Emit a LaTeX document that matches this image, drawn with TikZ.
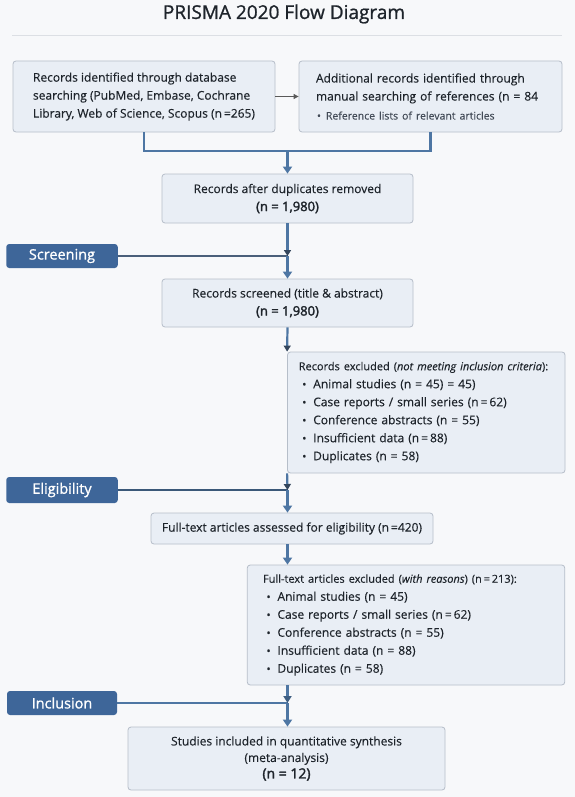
\documentclass[tikz,border=0pt]{standalone}
\usepackage{fontspec}
\setmainfont{Open Sans}[FakeBold=0.3]
\newfontfamily\semib{Open Sans}[FakeBold=1.0]
\newfontfamily\numb{Open Sans}[FakeBold=2.2]
\usetikzlibrary{arrows.meta}
\definecolor{bg}{HTML}{F7F8FA}
\definecolor{boxfill}{HTML}{E9EEF5}
\definecolor{boxdraw}{HTML}{B6BEC9}
\definecolor{flowblue}{HTML}{4E76A3}
\definecolor{phasefill}{HTML}{3E6699}
\definecolor{darktip}{HTML}{34465C}
\definecolor{txt}{HTML}{1E242B}
\definecolor{subtxt}{HTML}{434B57}
\definecolor{rule}{HTML}{DCDFE4}
\definecolor{phaseline}{HTML}{4A5F7A}
\definecolor{eligline}{HTML}{3B5878}
\newcommand{\mybul}{\makebox[14.5pt][l]{\hspace*{3.5pt}{\fontsize{11}{11}\selectfont •}}}
\begin{document}
\begin{tikzpicture}[x=1pt,y=-1pt,
  box/.style={draw=boxdraw, fill=boxfill, rounded corners=3pt, line width=0.8pt, inner sep=0pt, text=txt, font=\fontsize{12}{18}\selectfont},
  phase/.style={fill=phasefill, rounded corners=3pt, text=white, inner sep=0pt, font=\semib\fontsize{14.5}{16}\selectfont},
  flowline/.style={draw=flowblue, line width=2.2pt},
  flow/.style={flowline, -{Triangle[width=9pt,length=7pt]}},
  darkflow/.style={flowline, -{Triangle[width=7pt,length=6pt,color=darktip]}},
  phaselink/.style={draw=phaseline, line width=1.8pt},
  sidearrow/.style={draw=black!65, line width=1pt, -{Triangle[width=5pt,length=5pt]}}
]
\useasboundingbox (0,0) rectangle (575,797);
\fill[bg] (0,0) rectangle (575,797);

% title
\node[text=txt, font=\semib\fontsize{19}{22}\selectfont, inner sep=0pt] (title) at (284,14) {PRISMA 2020 Flow Diagram};
\draw[rule, line width=0.8pt] (12,35) -- (562,35);

% boxes
\node[box, minimum width=262pt, minimum height=71pt, align=left] (rec) at (144,96.5)
  {Records identified through database\\ searching (PubMed, Embase, Cochrane\\ Library, Web of Science, Scopus (n\,=265)};
\node[box, minimum width=263pt, minimum height=71pt, text width=229pt, align=left] (add) at (430.5,96.5)
  {Additional records identified through\\ manual searching of references (n = 84\\[1pt] {\fontsize{10.5}{18}\selectfont\color{subtxt}\hspace*{1pt}•\hspace{5pt}Reference lists of relevant articles}};
\node[box, minimum width=251pt, minimum height=49pt, align=center] (dup) at (287.5,198.5)
  {Records after duplicates removed\\ {\numb\fontsize{13}{19}\selectfont (n = 1,980)}};
\node[box, minimum width=251pt, minimum height=48pt, align=center] (scr) at (287.5,303)
  {Records screened (title \& abstract)\\ {\numb\fontsize{13}{19}\selectfont (n = 1,980)}};
\node[box, minimum width=277.5pt, minimum height=121pt, text width=255pt, align=left] (excl) at (426.25,412.5)
  {{\fontsize{11}{17}\selectfont Records excluded (\textit{not meeting inclusion criteria}):}\\
   \mybul Animal studies (n = 45) = 45)\\
   \mybul Case reports / small series (n\,=\,62)\\
   \mybul Conference abstracts (n = 55)\\
   \mybul Insufficient data (n\,=\,88)\\
   \mybul Duplicates (n = 58)};
\node[box, minimum width=282pt, minimum height=31pt, align=center] (ft) at (292,528.5)
  {Full-text articles assessed for eligibility (n\,=420)};
\node[box, minimum width=317.5pt, minimum height=120pt, text width=286pt, align=left] (ftex) at (406,625)
  {{\fontsize{11}{17}\selectfont Full-text articles excluded (\textit{with reasons}) (n\,=\,213):}\\
   \mybul Animal studies (n = 45)\\
   \mybul Case reports / small series (n\,=\,62)\\
   \mybul Conference abstracts (n = 55)\\
   \mybul Insufficient data (n = 88)\\
   \mybul Duplicates (n = 58)};
\node[box, minimum width=317pt, minimum height=63pt, align=center, font=\fontsize{12}{16.5}\selectfont] (inc) at (286.5,758.5)
  {Studies included in quantitative synthesis\\ (meta-analysis)\\ {\numb\fontsize{14}{16.5}\selectfont (n = 12)}};

% phase labels
\node[phase, minimum width=111.5pt, minimum height=24pt] (phS) at (62,256) {Screening};
\node[phase, minimum width=111.5pt, minimum height=26pt] (phE) at (62,490) {Eligibility};
\node[phase, minimum width=110pt, minimum height=24pt] (phI) at (62,703) {Inclusion};

% junctions
\coordinate (m) at (287.5,151);
\coordinate (j1) at (287.5,256);
\coordinate (j2) at (287.5,490);
\coordinate (j3) at (287.5,703);

% phase links
\draw[phaselink] (phS.east) -- (j1);
\draw[phaselink, draw=eligline] (phE.east) -- (j2);
\draw[phaselink, draw=flowblue] (phI.east) -- (j3);

% connectors
\draw[sidearrow] (rec.east) -- (add.west);
\draw[flowline] (rec.south) |- (m) -| (add.south);
\draw[flow] (m) -- (dup.north);
\draw[darkflow] (dup.south) -- (j1);
\draw[flow] (j1) -- (scr.north);
\draw[darkflow] (scr.south) -- (excl.north west);
\draw[darkflow] (excl.south west) -- (j2);
\draw[flow] (j2) -- (j2 |- ft.north);
\draw[flow] (j2 |- ft.south) -- (j2 |- ftex.north);
\draw[flowline, -{Triangle[width=8pt,length=7pt,color=flowblue!80!black]}] (j2 |- ftex.south) -- (j3);
\draw[flow] (j3) -- (j3 |- inc.north);
\end{tikzpicture}
\end{document}
